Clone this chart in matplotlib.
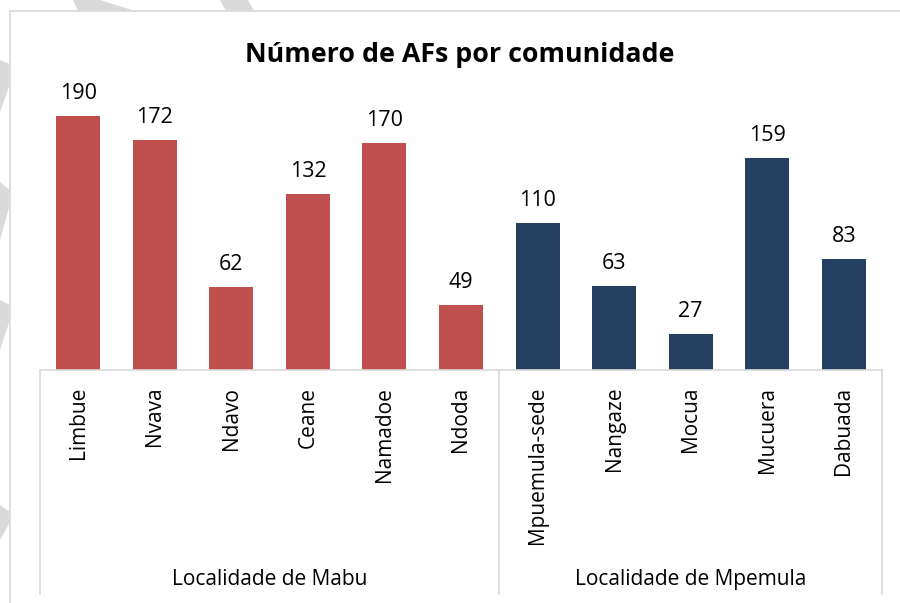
import matplotlib
matplotlib.use("Agg")
import matplotlib.pyplot as plt
import matplotlib.transforms as mtransforms
from matplotlib.patches import Rectangle, Polygon

plt.rcParams['font.family'] = ['Open Sans', 'DejaVu Sans']

# data
comunidades = ['Limbue', 'Nvava', 'Ndavo', 'Ceane', 'Namadoe', 'Ndoda',
               'Mpuemula-sede', 'Nangaze', 'Mocua', 'Mucuera', 'Dabuada']
n_afs = [190, 172, 62, 132, 170, 49, 110, 63, 27, 159, 83]
localidades = ['Localidade de Mabu', 'Localidade de Mpemula']
n_por_localidade = [6, 5]
cores = ['#C0504D', '#264061']

W, H = 900, 603
fig = plt.figure(figsize=(W / 100, H / 100), dpi=100)

def fx(px):
    return px / W

def fy(py):
    return 1 - py / H

# watermark stripes of the page behind the chart
stripe_col = '#DADADA'
stripes = [
    [(73, 0), (100, 0), (135, 11), (78, 11)],
    [(220, 0), (248, 0), (254, 11), (226, 11)],
    [(0, 60), (10, 64), (10, 84), (0, 112)],
    [(0, 182), (10, 190), (10, 204), (0, 240)],
    [(0, 300), (10, 305), (10, 320), (0, 350)],
    [(0, 505), (10, 512), (10, 522), (0, 540)],
]
for pts in stripes:
    fig.add_artist(Polygon([(fx(x), fy(y)) for x, y in pts], closed=True,
                           transform=fig.transFigure, facecolor=stripe_col,
                           edgecolor='none', zorder=0))

# chart frame
fig.add_artist(Rectangle((fx(10), fy(620)), fx(910) - fx(10), fy(11) - fy(620),
                         transform=fig.transFigure, facecolor='white',
                         edgecolor='#D9D9D9', lw=1.2, zorder=1))

ax = fig.add_axes([fx(40), fy(370), fx(882) - fx(40), fy(103) - fy(370)])
ax.set_zorder(2)
ax.patch.set_visible(False)

cores_barras = []
for n, c in zip(n_por_localidade, cores):
    cores_barras += [c] * n

x = list(range(len(comunidades)))
bars = ax.bar(x, n_afs, width=0.575, color=cores_barras)
for b, v in zip(bars, n_afs):
    ax.annotate(str(v), (b.get_x() + b.get_width() / 2, v),
                xytext=(0, 12.3), textcoords='offset points',
                ha='center', va='baseline', fontsize=15.5, color='#000000')

ax.set_xlim(-0.5, len(comunidades) - 0.5)
ax.set_ylim(0, 200)
for s in ax.spines.values():
    s.set_visible(False)
ax.set_yticks([])
ax.set_xticks(x)
ax.set_xticklabels(comunidades, rotation=90, fontsize=15, color='#000000')
ax.tick_params(axis='x', length=0, pad=12)

# category axis with group separators
grid_col = '#D9D9D9'
tr = mtransforms.blended_transform_factory(ax.transData, ax.transAxes)
ax.plot([-0.5, len(comunidades) - 0.5], [0, 0], color=grid_col, lw=1.2,
        transform=tr, clip_on=False)
inicio = -0.5
for nome, n in zip(localidades, n_por_localidade):
    fim = inicio + n
    ax.plot([inicio, inicio], [0, -0.84], color=grid_col, lw=1.2,
            transform=tr, clip_on=False)
    ax.text((inicio + fim) / 2, -0.783, nome, transform=tr, ha='center',
            va='center', fontsize=15, color='#000000')
    inicio = fim
ax.plot([inicio, inicio], [0, -0.84], color=grid_col, lw=1.2,
        transform=tr, clip_on=False)

fig.text(fx(460), fy(55), 'Número de AFs por comunidade', ha='center',
         va='center', fontsize=19.3, fontweight='bold', color='#000000')

fig.savefig('out.png', dpi=100)
